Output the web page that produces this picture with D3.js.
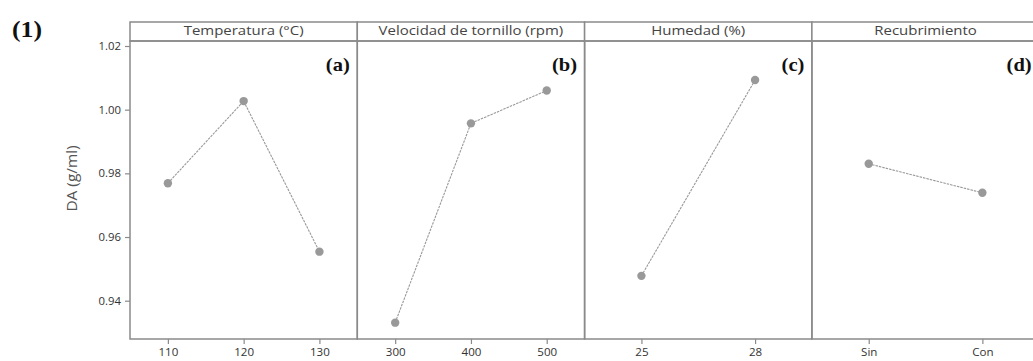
<!DOCTYPE html>
<html>
<head>
<meta charset="utf-8">
<script src="https://cdn.jsdelivr.net/npm/d3@7"></script>
<style>
  html, body { margin: 0; padding: 0; background: #fff; }
  svg { display: block; }
</style>
</head>
<body>
<svg id="chart" width="1033" height="361"></svg>
<script>
// Main-effects plot for DA (g/ml), one panel per factor
const factorTitles = ["Temperatura (°C)", "Velocidad de tornillo (rpm)", "Humedad (%)", "Recubrimiento"];
const panelTags = ["(a)", "(b)", "(c)", "(d)"];
const levelsTemp = ["110", "120", "130"];
const levelsSpeed = ["300", "400", "500"];
const levelsHum = ["25", "28"];
const levelsCoat = ["Sin", "Con"];
const meansTemp = [0.9769, 1.0027, 0.9554];
const meansSpeed = [0.9331, 0.9957, 1.0060];
const meansHum = [0.9478, 1.0093];
const meansCoat = [0.9830, 0.9739];
const yTicks = [0.94, 0.96, 0.98, 1.00, 1.02];
const yLabel = "DA (g/ml)";
const figureTag = "(1)";

const panels = [
  { title: factorTitles[0], tag: panelTags[0], levels: levelsTemp, means: meansTemp },
  { title: factorTitles[1], tag: panelTags[1], levels: levelsSpeed, means: meansSpeed },
  { title: factorTitles[2], tag: panelTags[2], levels: levelsHum, means: meansHum },
  { title: factorTitles[3], tag: panelTags[3], levels: levelsCoat, means: meansCoat }
];

const svg = d3.select("#chart");
const left = 130, panelW = 227.3, stripTop = 22, plotTop = 41, plotBottom = 339;
const frameColor = "#8a8a8a";
const markColor = "#999";
const textFont = "'Open Sans', 'DejaVu Sans', sans-serif";
const serifFont = "'Liberation Serif', 'Times New Roman', serif";

// widen glyphs horizontally by factor k
function stretch(sel, k) {
  sel.each(function () {
    const len = this.getComputedTextLength();
    d3.select(this).attr("textLength", len * k).attr("lengthAdjust", "spacingAndGlyphs");
  });
}

const y = d3.scaleLinear().domain([0.94, 1.02]).range([300.7, 46]);

// figure number
svg.append("text")
  .attr("x", 12).attr("y", 36.5)
  .attr("font-family", serifFont)
  .attr("font-weight", "bold").attr("font-size", 23)
  .attr("fill", "#111")
  .text(figureTag)
  .call(stretch, 1.12);

// y axis label
svg.append("text")
  .attr("transform", `translate(77,178.5) rotate(-90)`)
  .attr("text-anchor", "middle")
  .attr("font-family", textFont).attr("font-size", 14)
  .attr("fill", "#555")
  .text(yLabel)
  .call(stretch, 1.1);

// y axis
const yAxis = svg.append("g")
  .attr("transform", `translate(${left},0)`)
  .call(d3.axisLeft(y).tickValues(yTicks).tickFormat(d3.format(".2f")).tickSize(5).tickPadding(4));
yAxis.select(".domain").remove();
yAxis.selectAll(".tick line").attr("stroke", frameColor).attr("stroke-width", 1.2);
yAxis.selectAll(".tick text")
  .attr("font-family", textFont).attr("font-size", 10.5)
  .attr("fill", "#333")
  .call(stretch, 1.08);

panels.forEach((p, i) => {
  const x0 = left + i * panelW, x1 = x0 + panelW;
  const g = svg.append("g");
  const x = d3.scalePoint().domain(p.levels).range([x0, x1]).padding(0.5);

  // strip header
  g.append("rect")
    .attr("x", x0).attr("y", stripTop)
    .attr("width", panelW).attr("height", plotTop - stripTop)
    .attr("fill", "#fff").attr("stroke", frameColor).attr("stroke-width", 1.5);
  g.append("text")
    .attr("x", (x0 + x1) / 2).attr("y", stripTop + 12.5)
    .attr("text-anchor", "middle")
    .attr("font-family", textFont).attr("font-size", 13)
    .attr("fill", "#444")
    .text(p.title)
    .call(stretch, 1.15);

  // plot frame
  g.append("rect")
    .attr("x", x0).attr("y", plotTop)
    .attr("width", panelW).attr("height", plotBottom - plotTop)
    .attr("fill", "none").attr("stroke", frameColor).attr("stroke-width", 1.5);

  // x axis
  const xAxis = g.append("g")
    .attr("transform", `translate(0,${plotBottom})`)
    .call(d3.axisBottom(x).tickSize(5).tickPadding(4));
  xAxis.select(".domain").remove();
  xAxis.selectAll(".tick line").attr("stroke", frameColor).attr("stroke-width", 1.2);
  xAxis.selectAll(".tick text")
    .attr("font-family", textFont).attr("font-size", 11)
    .attr("fill", "#333")
    .call(stretch, 1.05);

  // panel tag
  g.append("text")
    .attr("x", x1 - 7.5).attr("y", 71)
    .attr("text-anchor", "end")
    .attr("font-family", serifFont)
    .attr("font-weight", "bold").attr("font-size", 19)
    .attr("fill", "#111")
    .text(p.tag)
    .call(stretch, 1.08);

  const pts = p.levels.map((l, k) => ({ level: l, value: p.means[k] }));

  // connecting line
  g.append("path")
    .datum(pts)
    .attr("fill", "none")
    .attr("stroke", markColor).attr("stroke-width", 1.1)
    .attr("stroke-dasharray", "2.5,1")
    .attr("d", d3.line().x(d => x(d.level)).y(d => y(d.value)));

  // level means
  g.selectAll("circle.mean")
    .data(pts).enter().append("circle")
    .attr("class", "mean")
    .attr("cx", d => x(d.level)).attr("cy", d => y(d.value))
    .attr("r", 4.2)
    .attr("fill", "#999");
});
</script>
</body>
</html>
